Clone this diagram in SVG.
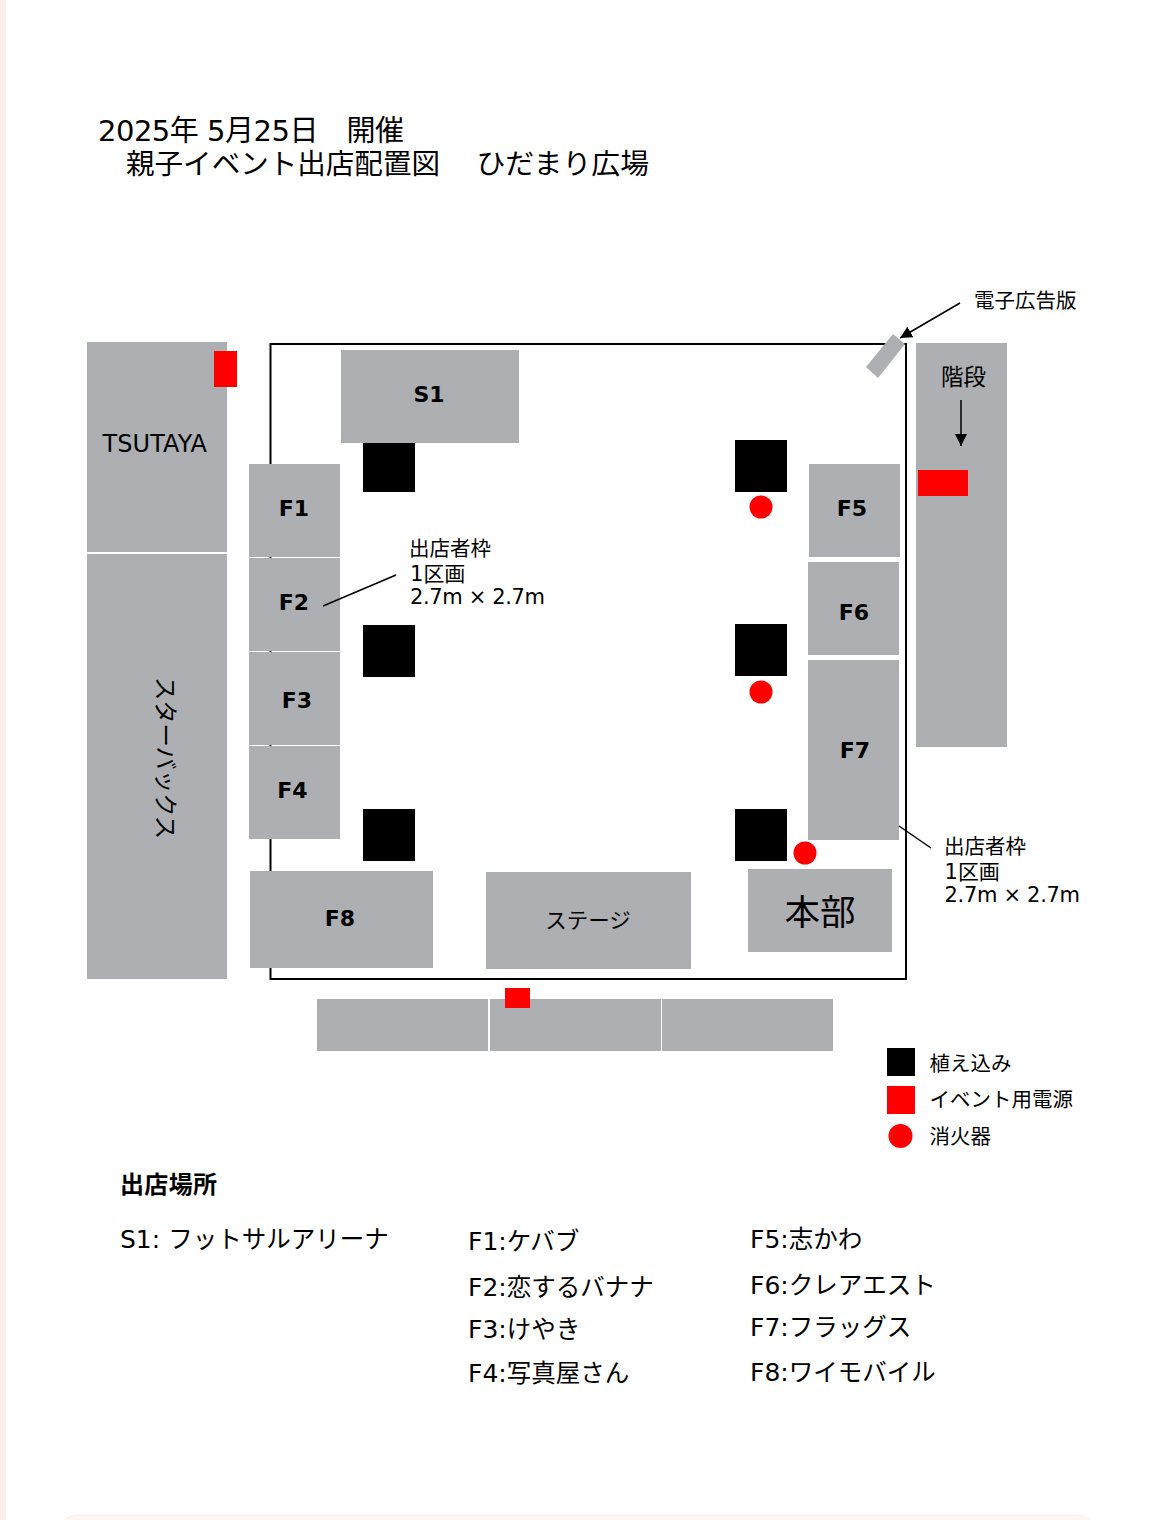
<svg xmlns="http://www.w3.org/2000/svg" width="1149" height="1520" viewBox="0 0 1149 1520">
<style>
text{font-family:"DejaVu Sans","Noto Sans CJK JP",sans-serif;fill:#000}
.j{font-family:"Noto Sans CJK JP",sans-serif}
.g{fill:#aeafb3}
.k{fill:#000}
.r{fill:#f00}
.b{font-weight:700;font-size:22px;text-anchor:middle;font-family:"DejaVu Sans","Noto Sans CJK JP",sans-serif}
.m{font-size:21px}
.l{font-size:25px}
.t{font-size:24.500px}
.s{font-size:20.500px}
.c{stroke:#000;fill:none}
</style>
<defs>
<marker id="arrow" markerUnits="userSpaceOnUse" markerWidth="14" markerHeight="14" refX="12" refY="6" orient="auto"><path d="M0 0L12 6L0 12Z" fill="#000"/></marker>
</defs>
<rect width="1149" height="1520" fill="#fff"/>
<rect x="0" y="0" width="6" height="1520" fill="#fdeeee"/>
<rect x="58" y="1515" width="1038" height="40" rx="20" fill="#fff5f3" stroke="#f2f2f2"/>
<g id="title">
<text x="98" y="141" style="font-size:29px" textLength="306">2025年 5月25日　開催</text>
<text x="126" y="174" style="font-size:28.500px" class="j" textLength="314" lengthAdjust="spacingAndGlyphs">親子イベント出店配置図</text>
<text x="476.500" y="174" style="font-size:28.500px" class="j" textLength="172.500" lengthAdjust="spacingAndGlyphs">ひだまり広場</text>
</g>
<g id="plaza"><rect x="270.500" y="344" width="635.500" height="635" fill="none" stroke="#000" stroke-width="2"/></g>
<g id="tsutaya"><rect class="g" x="87" y="342" width="140" height="210"/><text x="102.500" y="452" style="font-size:24px" textLength="104.500">TSUTAYA</text></g>
<g id="starbucks"><rect class="g" x="87" y="554" width="140" height="425"/><text class="j" transform="translate(157,758) rotate(90)" text-anchor="middle" style="font-size:23.300px">スターバックス</text></g>
<g id="power-tsutaya"><rect class="r" x="214" y="351" width="23" height="36"/></g>
<g id="s1"><rect class="g" x="341" y="350" width="178" height="93"/><text class="b" x="429" y="402">S1</text></g>
<g id="f1"><rect class="g" x="249" y="464" width="91" height="93"/><text class="b" x="294" y="516">F1</text></g>
<g id="f2"><rect class="g" x="249" y="558" width="91" height="93"/><text class="b" x="294" y="610">F2</text></g>
<g id="f3"><rect class="g" x="249" y="652" width="91" height="93"/><text class="b" x="297" y="708">F3</text></g>
<g id="f4"><rect class="g" x="249" y="746" width="91" height="93"/><text class="b" x="292.500" y="798">F4</text></g>
<g id="f5"><rect class="g" x="809" y="464" width="91" height="93"/><text class="b" x="852" y="516">F5</text></g>
<g id="f6"><rect class="g" x="808" y="562" width="91" height="93"/><text class="b" x="854" y="620">F6</text></g>
<g id="f7"><rect class="g" x="808" y="660" width="91" height="180"/><text class="b" x="855" y="758">F7</text></g>
<g id="f8"><rect class="g" x="250" y="871" width="183" height="97"/><text class="b" x="340" y="926">F8</text></g>
<g id="stage"><rect class="g" x="486" y="872" width="205" height="97"/><text class="j" x="588" y="928" text-anchor="middle" style="font-size:21.500px">ステージ</text></g>
<g id="honbu"><rect class="g" x="748" y="869" width="144" height="83"/><text class="j" x="820" y="925" text-anchor="middle" style="font-size:35.500px">本部</text></g>
<g id="stairs"><rect class="g" x="916" y="343" width="91" height="404"/><text class="j" x="963.500" y="385" text-anchor="middle" style="font-size:22.500px">階段</text><rect class="r" x="918" y="470" width="50" height="26"/></g>
<g id="signboard"><polygon class="g" points="893,334 905,344 878,378 866,367"/></g>
<g id="south-1"><rect class="g" x="317" y="999" width="171" height="52"/></g>
<g id="south-2"><rect class="g" x="490" y="999" width="171" height="52"/></g>
<g id="south-3"><rect class="g" x="662" y="999" width="171" height="52"/></g>
<g id="power-south"><rect class="r" x="505" y="988" width="25" height="20"/></g>
<g id="plants">
<rect class="k" x="363" y="443" width="52" height="49"/><rect class="k" x="363" y="625" width="52" height="52"/><rect class="k" x="363" y="809" width="52" height="52"/>
<rect class="k" x="735" y="440" width="52" height="52"/><rect class="k" x="735" y="624" width="52" height="52"/><rect class="k" x="735" y="809" width="52" height="52"/>
</g>
<g id="extinguishers">
<circle class="r" cx="761" cy="507" r="11.500"/><circle class="r" cx="761" cy="692" r="11.500"/><circle class="r" cx="805" cy="853" r="11.500"/>
</g>
<g id="connectors">
<line class="c" x1="960" y1="303" x2="900" y2="338" stroke-width="1.500" marker-end="url(#arrow)"/>
<line class="c" x1="961" y1="400" x2="961" y2="446" stroke-width="1.500" marker-end="url(#arrow)"/>
<line class="c" x1="323" y1="606" x2="396" y2="575" stroke-width="1.500"/>
<line class="c" x1="899" y1="826" x2="931" y2="848" stroke-width="1.500"/>
</g>
<g id="labels">
<text class="j s" x="974" y="308">電子広告版</text>
<text class="j s" x="409" y="556">出店者枠</text>
<text x="410" y="581" class="m">1<tspan class="j">区画</tspan></text>
<text x="410" y="604" class="m" textLength="135">2.7m × 2.7m</text>
<text class="j s" x="944" y="854">出店者枠</text>
<text x="944.500" y="879" class="m">1<tspan class="j">区画</tspan></text>
<text x="944.500" y="902" class="m" textLength="135.500">2.7m × 2.7m</text>
</g>
<g id="legend">
<rect class="k" x="887" y="1048" width="28" height="28"/><text class="j s" x="929.500" y="1071">植え込み</text>
<rect class="r" x="887" y="1086" width="28" height="28"/><text class="j s" x="929.500" y="1107">イベント用電源</text>
<circle class="r" cx="900.500" cy="1136" r="12"/><text class="j s" x="929.500" y="1144">消火器</text>
</g>
<g id="list">
<text class="j" x="120" y="1193" style="font-size:24px;font-weight:700" textLength="97">出店場所</text>
<text x="120" y="1248" class="l">S1: <tspan class="j t">フットサルアリーナ</tspan></text>
<text x="468" y="1250" class="l">F1:<tspan class="j t">ケバブ</tspan></text>
<text x="468" y="1296" class="l">F2:<tspan class="j t">恋するバナナ</tspan></text>
<text x="468" y="1338" class="l">F3:<tspan class="j t">けやき</tspan></text>
<text x="468" y="1382" class="l">F4:<tspan class="j t">写真屋さん</tspan></text>
<text x="750" y="1248" class="l">F5:<tspan class="j t">志かわ</tspan></text>
<text x="750" y="1294" class="l">F6:<tspan class="j t">クレアエスト</tspan></text>
<text x="750" y="1336" class="l">F7:<tspan class="j t">フラッグス</tspan></text>
<text x="750" y="1381" class="l">F8:<tspan class="j t">ワイモバイル</tspan></text>
</g>
</svg>
